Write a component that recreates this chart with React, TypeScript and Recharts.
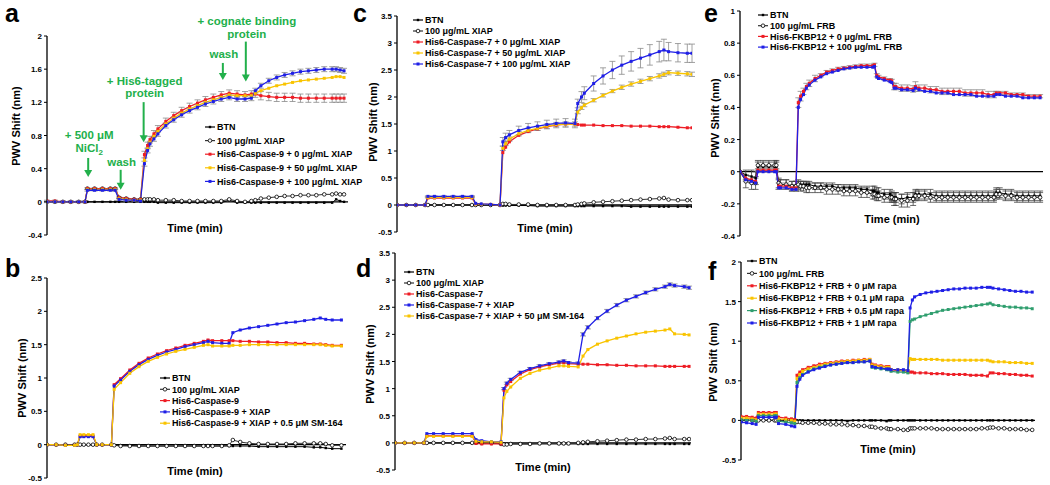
import React from "react";
import { LineChart, Line, XAxis, YAxis, ReferenceLine, ReferenceDot, ErrorBar } from "recharts";

const FONT = "Arial, 'Liberation Sans', Helvetica, sans-serif";
const RED = "#ee1c24";
const BLUE = "#1f1fe6";
const YELLOW = "#f9c400";
const GREEN = "#2f9e6e";
const BLACK = "#000";
const ANNOT = "#22b04b";

// ---- panel a : His6-Caspase-9 / XIAP, with annotations ----
const timeA = [0, 1, 2, 3, 4, 4.8, 5.1, 6, 7, 8, 8.6, 9.1, 10, 11, 11.8, 12.3, 12.7, 13, 13.5, 14, 15, 16, 17, 18, 19, 20, 21, 22, 23, 24, 25, 25.8, 26.3, 27, 28, 29, 30, 31, 32, 33, 34, 35, 36, 36.5, 37, 37.5];
const btnA = [0, 0, 0, 0, 0, 0, 0, 0, 0, 0, 0, 0, 0, 0, 0, 0, 0, 0, 0, -0.01, -0.01, -0.01, -0.01, -0.01, -0.01, -0.01, -0.01, -0.01, 0.02, -0.01, -0.01, -0.01, -0.01, -0.01, -0.01, -0.01, -0.01, -0.01, -0.01, -0.01, -0.01, -0.01, -0.01, 0.03, 0.01, 0];
const xiapA = [0, 0, 0, 0, 0, 0, 0.16, 0.16, 0.16, 0.16, 0.16, 0.05, 0.04, 0.03, 0.03, 0.03, 0.03, 0.03, 0.03, 0.02, 0.02, 0.02, 0.01, 0.01, 0.01, 0.01, 0.01, 0.01, 0.03, 0.01, 0, 0.01, 0.02, 0.04, 0.05, 0.06, 0.07, 0.07, 0.08, 0.08, 0.08, 0.09, 0.09, 0.1, 0.09, 0.09];
const casp9NoXiapA = [0.01, 0.01, 0, 0, 0, 0, 0.16, 0.16, 0.16, 0.16, 0.16, 0.05, 0.04, 0.03, 0.03, 0.57, 0.68, 0.75, 0.82, 0.88, 0.97, 1.04, 1.1, 1.15, 1.19, 1.23, 1.26, 1.29, 1.31, 1.3, 1.29, 1.3, 1.3, 1.28, 1.27, 1.26, 1.26, 1.26, 1.25, 1.25, 1.25, 1.25, 1.25, 1.25, 1.25, 1.25];
const casp9Xiap50A = [0, 0, 0, 0, 0, 0, 0.15, 0.15, 0.15, 0.15, 0.15, 0.04, 0.03, 0.02, 0.02, 0.5, 0.64, 0.72, 0.79, 0.85, 0.94, 1.01, 1.07, 1.12, 1.16, 1.2, 1.23, 1.26, 1.29, 1.28, 1.28, 1.28, 1.31, 1.34, 1.37, 1.4, 1.42, 1.44, 1.46, 1.47, 1.48, 1.49, 1.5, 1.51, 1.51, 1.5];
const casp9Xiap100A = [0, 0, 0, 0, 0, 0, 0.14, 0.14, 0.14, 0.14, 0.14, 0.03, 0.02, 0.02, 0.01, 0.46, 0.62, 0.7, 0.76, 0.82, 0.92, 0.99, 1.05, 1.1, 1.14, 1.18, 1.21, 1.24, 1.26, 1.24, 1.24, 1.25, 1.34, 1.4, 1.46, 1.5, 1.53, 1.55, 1.57, 1.58, 1.59, 1.6, 1.6, 1.6, 1.59, 1.58];
const errNoXiapA = [0.01, 0.01, 0.01, 0.01, 0.01, 0.01, 0.01, 0.01, 0.01, 0.01, 0.01, 0.01, 0.01, 0.01, 0.01, 0.04, 0.04, 0.04, 0.04, 0.04, 0.04, 0.04, 0.04, 0.04, 0.04, 0.04, 0.04, 0.04, 0.04, 0.04, 0.04, 0.04, 0.04, 0.05, 0.05, 0.05, 0.05, 0.05, 0.05, 0.05, 0.05, 0.05, 0.05, 0.05, 0.05, 0.05];
const errXiap100A = [0.01, 0.01, 0.01, 0.01, 0.01, 0.01, 0.01, 0.01, 0.01, 0.01, 0.01, 0.01, 0.01, 0.01, 0.01, 0.03, 0.03, 0.03, 0.03, 0.03, 0.03, 0.03, 0.03, 0.03, 0.03, 0.03, 0.03, 0.03, 0.03, 0.03, 0.03, 0.03, 0.03, 0.03, 0.03, 0.03, 0.03, 0.03, 0.03, 0.03, 0.03, 0.03, 0.03, 0.03, 0.03, 0.03];
const namesA = ["BTN", "100 μg/mL XIAP", "His6-Caspase-9 + 0 μg/mL XIAP", "His6-Caspase-9 + 50 μg/mL XIAP", "His6-Caspase-9 + 100 μg/mL XIAP"];
const annotLines = [["+ 500 μM", "NiCl_2"], ["wash"], ["+ His6-tagged", "protein"], ["wash"], ["+ cognate binding", "protein"]];
const annotTime = [5.2, 9.3, 12.2, 22.2, 25.1];
const annotLevel = [0.3, 0.145, 0.72, 1.47, 1.45];

// ---- panel b : Caspase-9 + SM-164 ----
const timeB = [0, 1, 2, 3, 3.3, 3.6, 4, 4.5, 5, 5.4, 6, 7, 7.3, 8, 9, 10, 11, 12, 13, 14, 15, 16, 17, 17.5, 18, 19, 19.8, 20.2, 21, 22, 23, 24, 25, 26, 27, 28, 29, 29.7, 30.3, 31, 32];
const btnB = [0, 0, 0, 0, 0, 0, 0, 0, 0, 0, 0, 0, -0.01, -0.01, -0.01, -0.02, -0.02, -0.02, -0.02, -0.02, -0.02, -0.02, -0.02, -0.02, -0.02, -0.02, -0.02, -0.02, -0.02, -0.02, -0.03, -0.03, -0.03, -0.03, -0.03, -0.03, -0.04, -0.04, -0.05, -0.06, -0.06];
const xiapB = [0, 0, 0, 0, 0, 0, 0, 0, 0, 0, 0, 0, -0.01, -0.02, -0.02, -0.02, -0.02, -0.02, -0.02, -0.02, -0.02, -0.02, -0.02, -0.02, -0.02, -0.02, -0.01, 0.07, 0.04, 0.02, 0.01, 0.01, 0.01, 0.01, 0.02, 0.02, 0.02, 0.02, 0.01, -0.01, -0.01];
const casp9B = [0, 0, -0.01, -0.01, 0, 0.13, 0.13, 0.13, 0.13, 0, 0, 0, 0.9, 0.99, 1.12, 1.22, 1.3, 1.36, 1.41, 1.45, 1.49, 1.52, 1.55, 1.57, 1.56, 1.56, 1.56, 1.56, 1.55, 1.55, 1.54, 1.54, 1.53, 1.53, 1.52, 1.52, 1.51, 1.51, 1.5, 1.49, 1.49];
const casp9XiapB = [0, 0, -0.01, -0.01, 0, 0.12, 0.12, 0.12, 0.12, 0, 0, 0, 0.88, 0.97, 1.1, 1.2, 1.28, 1.34, 1.39, 1.43, 1.47, 1.5, 1.53, 1.55, 1.53, 1.52, 1.52, 1.68, 1.72, 1.75, 1.77, 1.79, 1.81, 1.83, 1.84, 1.86, 1.88, 1.9, 1.88, 1.87, 1.87];
const casp9XiapSmB = [0, 0, -0.01, -0.01, 0, 0.15, 0.15, 0.15, 0.15, 0, 0, 0, 0.83, 0.93, 1.07, 1.17, 1.25, 1.31, 1.36, 1.4, 1.43, 1.46, 1.49, 1.5, 1.48, 1.48, 1.48, 1.49, 1.49, 1.5, 1.5, 1.5, 1.5, 1.5, 1.5, 1.5, 1.5, 1.5, 1.49, 1.48, 1.48];
const namesB = ["BTN", "100 μg/mL XIAP", "His6-Caspase-9", "His6-Caspase-9 + XIAP", "His6-Caspase-9 + XIAP + 0.5 μM SM-164"];

// ---- panel c : Caspase-7 / XIAP ----
const timeC = [0, 1, 2, 3, 3.3, 4, 5, 6, 7, 8, 8.4, 9, 10, 11, 11.3, 11.6, 12, 13, 14, 15, 16, 17, 18, 19, 19.3, 19.7, 20, 21, 22, 23, 24, 25, 26, 27, 28, 28.5, 29, 30, 31, 31.5];
const btnC = [0, 0, 0, 0, 0, 0, 0, 0, 0, 0, 0, 0, 0, 0, -0.01, -0.01, -0.01, -0.01, -0.01, -0.02, -0.02, -0.02, -0.02, -0.02, -0.02, -0.02, -0.02, -0.02, -0.02, -0.02, -0.02, -0.03, -0.03, -0.03, -0.03, -0.03, -0.03, -0.03, -0.03, -0.03];
const xiapC = [0, 0, 0, 0, 0, 0, 0, 0, 0, 0, 0, 0, 0, 0, 0.02, 0.02, 0.01, 0.01, 0.01, 0, 0, 0, 0, 0, 0.01, 0.02, 0.03, 0.05, 0.06, 0.07, 0.08, 0.09, 0.1, 0.11, 0.12, 0.13, 0.1, 0.09, 0.09, 0.09];
const casp7NoXiapC = [0, 0, 0, 0, 0.13, 0.13, 0.13, 0.13, 0.13, 0.13, 0.02, 0.01, 0.01, 0, 0.97, 1.07, 1.17, 1.29, 1.36, 1.41, 1.45, 1.48, 1.5, 1.5, 1.49, 1.48, 1.48, 1.48, 1.47, 1.47, 1.47, 1.46, 1.46, 1.46, 1.45, 1.45, 1.45, 1.44, 1.43, 1.43];
const casp7Xiap50C = [0, 0, 0, 0, 0.14, 0.14, 0.14, 0.14, 0.14, 0.14, 0.02, 0.01, 0.01, 0, 1.05, 1.14, 1.22, 1.32, 1.38, 1.42, 1.46, 1.49, 1.5, 1.5, 1.72, 1.8, 1.85, 1.94, 2.03, 2.11, 2.18, 2.24, 2.29, 2.34, 2.39, 2.42, 2.45, 2.44, 2.43, 2.42];
const casp7Xiap100C = [0, 0, 0, 0, 0.16, 0.16, 0.16, 0.16, 0.16, 0.16, 0.03, 0.02, 0.01, 0, 1.17, 1.25, 1.3, 1.38, 1.43, 1.46, 1.49, 1.51, 1.52, 1.51, 1.88, 2.0, 2.07, 2.25, 2.39, 2.5, 2.59, 2.66, 2.72, 2.78, 2.84, 2.87, 2.84, 2.82, 2.81, 2.81];
const errXiap50C = [0, 0, 0, 0, 0.01, 0.01, 0.01, 0.01, 0.01, 0.01, 0, 0, 0, 0, 0.04, 0.04, 0.04, 0.04, 0.04, 0.04, 0.04, 0.04, 0.04, 0.04, 0.03, 0.03, 0.03, 0.03, 0.03, 0.03, 0.04, 0.04, 0.04, 0.04, 0.04, 0.04, 0.04, 0.04, 0.04, 0.04];
const errXiap100C = [0, 0, 0, 0, 0.01, 0.01, 0.01, 0.01, 0.01, 0.01, 0, 0, 0, 0, 0.08, 0.08, 0.08, 0.08, 0.08, 0.08, 0.08, 0.08, 0.08, 0.08, 0.08, 0.1, 0.12, 0.14, 0.15, 0.16, 0.17, 0.18, 0.18, 0.19, 0.19, 0.2, 0.17, 0.17, 0.17, 0.17];
const namesC = ["BTN", "100 μg/mL XIAP", "His6-Caspase-7 + 0 μg/mL XIAP", "His6-Caspase-7 + 50 μg/mL XIAP", "His6-Caspase-7 + 100 μg/mL XIAP"];

// ---- panel d : Caspase-7 + SM-164 ----
const timeD = [0, 1, 2, 3, 3.3, 4, 5, 6, 7, 8, 8.4, 9, 10, 11, 11.3, 11.6, 12, 13, 14, 15, 16, 17, 17.5, 18, 19, 19.5, 20, 21, 22, 23, 24, 25, 26, 27, 28, 28.5, 29, 30, 30.5];
const btnD = [0, 0, 0, 0, 0, 0, 0, 0, 0, 0, 0, 0, 0, 0, -0.02, -0.02, -0.02, -0.02, -0.02, -0.02, -0.02, -0.02, -0.02, -0.02, -0.02, -0.02, -0.02, -0.02, -0.02, -0.02, -0.02, -0.02, -0.02, -0.02, -0.02, -0.02, -0.02, -0.02, -0.02];
const xiapD = [0, 0, 0, 0, 0, 0, 0, 0, 0, 0, 0, 0, 0, -0.02, -0.03, -0.03, -0.02, -0.02, -0.02, -0.01, -0.01, -0.01, -0.01, -0.01, 0, 0.01, 0.02, 0.03, 0.04, 0.05, 0.06, 0.06, 0.07, 0.07, 0.08, 0.09, 0.07, 0.07, 0.07];
const casp7D = [0, 0, 0, 0, 0.13, 0.13, 0.13, 0.13, 0.13, 0.13, -0.01, -0.02, -0.02, -0.02, 0.97, 1.07, 1.13, 1.27, 1.35, 1.4, 1.44, 1.47, 1.48, 1.46, 1.45, 1.45, 1.45, 1.44, 1.44, 1.43, 1.43, 1.42, 1.42, 1.42, 1.41, 1.41, 1.41, 1.41, 1.41];
const casp7XiapD = [0, 0, 0, 0, 0.17, 0.17, 0.17, 0.17, 0.17, 0.17, 0.06, 0.04, 0.02, 0.02, 1.0, 1.1, 1.17, 1.3, 1.37, 1.42, 1.46, 1.49, 1.51, 1.48, 1.47, 2.0, 2.13, 2.3, 2.43, 2.54, 2.63, 2.7, 2.77, 2.83, 2.88, 2.92, 2.9, 2.88, 2.86];
const casp7XiapSmD = [0, 0, 0, 0, 0.12, 0.12, 0.12, 0.12, 0.12, 0.12, 0.03, 0.02, 0.02, 0.01, 0.83, 0.95, 1.03, 1.19, 1.28, 1.34, 1.38, 1.42, 1.42, 1.41, 1.4, 1.6, 1.72, 1.82, 1.88, 1.93, 1.97, 2.01, 2.04, 2.06, 2.08, 2.1, 2.01, 2.0, 1.99];
const errXiapD = [0, 0, 0, 0, 0, 0, 0, 0, 0, 0, 0, 0, 0, 0, 0.02, 0.02, 0.02, 0.02, 0.02, 0.02, 0.02, 0.02, 0.02, 0.02, 0.02, 0.03, 0.03, 0.03, 0.03, 0.03, 0.03, 0.03, 0.03, 0.03, 0.03, 0.03, 0.03, 0.03, 0.03];
const namesD = ["BTN", "100 μg/mL XIAP", "His6-Caspase-7", "His6-Caspase-7 + XIAP", "His6-Caspase-7 + XIAP + 50 μM SM-164"];

// ---- panel e : FKBP12 / FRB ----
const timeE = [0, 1, 2, 2.7, 3.1, 4, 5, 6, 6.3, 6.7, 7, 8, 9, 9.7, 10.1, 10.5, 11, 11.5, 12, 13, 14, 15, 16, 17, 18, 19, 20, 21, 22, 23, 23.3, 23.7, 24, 25, 26, 26.3, 26.7, 27, 28, 29, 30, 30.4, 31, 32, 33, 34, 35, 36, 37, 38, 39, 40, 41, 42, 43, 44, 44.4, 45, 46, 47, 48, 49, 50, 51, 52];
const btnE = [0, -0.02, -0.03, -0.04, 0.03, 0.03, 0.03, 0.03, 0.03, -0.08, -0.08, -0.08, -0.09, -0.09, -0.08, -0.08, -0.08, -0.08, -0.08, -0.09, -0.09, -0.09, -0.09, -0.1, -0.1, -0.1, -0.1, -0.11, -0.11, -0.12, -0.12, -0.13, -0.13, -0.14, -0.14, -0.15, -0.16, -0.16, -0.17, -0.16, -0.16, -0.14, -0.14, -0.14, -0.14, -0.15, -0.15, -0.15, -0.15, -0.15, -0.15, -0.15, -0.15, -0.15, -0.15, -0.15, -0.13, -0.13, -0.14, -0.14, -0.15, -0.15, -0.15, -0.15, -0.15];
const frbE = [0, -0.06, -0.07, -0.07, 0.04, 0.04, 0.04, 0.04, 0.04, -0.07, -0.08, -0.08, -0.09, -0.09, -0.08, -0.09, -0.09, -0.1, -0.1, -0.1, -0.1, -0.11, -0.11, -0.11, -0.12, -0.12, -0.12, -0.13, -0.13, -0.14, -0.14, -0.15, -0.15, -0.16, -0.16, -0.16, -0.17, -0.17, -0.18, -0.18, -0.17, -0.15, -0.15, -0.15, -0.16, -0.16, -0.16, -0.16, -0.16, -0.16, -0.16, -0.16, -0.16, -0.16, -0.16, -0.16, -0.14, -0.14, -0.15, -0.15, -0.16, -0.16, -0.16, -0.16, -0.16];
const fkbpNoFrbE = [0, -0.04, -0.05, -0.06, 0.01, 0.01, 0.01, 0.01, 0.01, -0.09, -0.09, -0.09, -0.1, -0.1, 0.43, 0.47, 0.5, 0.53, 0.55, 0.58, 0.6, 0.62, 0.63, 0.64, 0.645, 0.65, 0.655, 0.66, 0.66, 0.66, 0.665, 0.6, 0.59, 0.58, 0.57, 0.565, 0.53, 0.53, 0.52, 0.52, 0.515, 0.53, 0.52, 0.52, 0.51, 0.51, 0.5, 0.5, 0.5, 0.5, 0.49, 0.49, 0.49, 0.49, 0.48, 0.48, 0.49, 0.49, 0.49, 0.48, 0.48, 0.48, 0.47, 0.47, 0.47];
const fkbpFrbE = [0, -0.05, -0.06, -0.07, 0, 0, 0, 0, 0, -0.1, -0.1, -0.1, -0.11, -0.11, 0.4, 0.45, 0.48, 0.52, 0.54, 0.57, 0.59, 0.61, 0.62, 0.63, 0.64, 0.645, 0.65, 0.65, 0.65, 0.65, 0.655, 0.59, 0.58, 0.57, 0.56, 0.555, 0.52, 0.52, 0.51, 0.51, 0.505, 0.52, 0.51, 0.5, 0.5, 0.49, 0.49, 0.49, 0.48, 0.48, 0.48, 0.48, 0.47, 0.47, 0.47, 0.47, 0.48, 0.48, 0.47, 0.47, 0.47, 0.46, 0.46, 0.46, 0.46];
const errBtnE = [0, 0.03, 0.04, 0.04, 0.03, 0.03, 0.03, 0.03, 0.03, 0.03, 0.03, 0.03, 0.03, 0.03, 0.02, 0.02, 0.02, 0.02, 0.02, 0.02, 0.02, 0.02, 0.02, 0.02, 0.02, 0.02, 0.02, 0.02, 0.02, 0.03, 0.03, 0.03, 0.03, 0.03, 0.03, 0.03, 0.03, 0.03, 0.03, 0.03, 0.03, 0.03, 0.03, 0.03, 0.03, 0.03, 0.03, 0.03, 0.03, 0.03, 0.03, 0.03, 0.03, 0.03, 0.03, 0.03, 0.03, 0.03, 0.03, 0.03, 0.03, 0.03, 0.03, 0.03, 0.03];
const errFrbE = [0, 0.04, 0.04, 0.04, 0.03, 0.03, 0.03, 0.03, 0.03, 0.03, 0.03, 0.03, 0.03, 0.03, 0.03, 0.03, 0.03, 0.03, 0.03, 0.03, 0.03, 0.03, 0.03, 0.03, 0.03, 0.03, 0.03, 0.03, 0.03, 0.03, 0.03, 0.03, 0.03, 0.03, 0.03, 0.03, 0.04, 0.04, 0.04, 0.04, 0.04, 0.03, 0.03, 0.03, 0.03, 0.03, 0.03, 0.03, 0.03, 0.03, 0.03, 0.03, 0.03, 0.03, 0.03, 0.03, 0.03, 0.03, 0.03, 0.03, 0.03, 0.03, 0.03, 0.03, 0.03];
const errNoFrbE = [0, 0.02, 0.02, 0.02, 0.01, 0.01, 0.01, 0.01, 0.01, 0.02, 0.02, 0.02, 0.02, 0.02, 0.03, 0.03, 0.02, 0.02, 0.02, 0.02, 0.01, 0.01, 0.01, 0.01, 0.01, 0.01, 0.01, 0.01, 0.01, 0.01, 0.01, 0.01, 0.01, 0.01, 0.01, 0.01, 0.02, 0.02, 0.02, 0.02, 0.02, 0.03, 0.02, 0.02, 0.02, 0.02, 0.02, 0.02, 0.02, 0.02, 0.02, 0.02, 0.02, 0.02, 0.02, 0.02, 0.01, 0.01, 0.01, 0.01, 0.01, 0.01, 0.01, 0.01, 0.01];
const namesE = ["BTN", "100 μg/mL FRB", "His6-FKBP12 + 0 μg/mL FRB", "His6-FKBP12 + 100 μg/mL FRB"];

// ---- panel f : FKBP12 + FRB + rapamycin ----
const timeF = [0, 1, 2, 2.7, 3.1, 4, 5, 6, 6.3, 6.7, 8, 9, 9.6, 10, 10.5, 11, 12, 13, 14, 15, 16, 17, 18, 19, 20, 21, 22, 23, 23.4, 24, 25, 26, 26.4, 26.8, 28, 29, 29.8, 30.2, 30.6, 31, 32, 33, 34, 35, 36, 37, 38, 39, 40, 41, 42, 43, 44, 44.5, 45, 46, 47, 48, 49, 50, 51, 52];
const btnF = [0, 0, 0, 0, 0, 0, 0, 0, 0, 0, 0, 0, 0, 0, 0, 0, 0, 0, 0, 0, 0, 0, 0, -0.01, 0, 0, 0, 0, 0, 0, 0, -0.01, 0, 0, 0, 0, 0, 0, 0, 0, 0, 0, 0, 0, 0, 0, 0, 0, 0, 0, 0, 0, 0, 0, 0, 0, 0, 0, 0, 0, 0, 0];
const frbF = [0, 0, 0, 0, 0, 0, 0, 0, 0, 0, 0, 0, 0, -0.02, -0.02, -0.03, -0.03, -0.03, -0.04, -0.04, -0.05, -0.05, -0.05, -0.06, -0.06, -0.07, -0.07, -0.08, -0.08, -0.09, -0.1, -0.1, -0.11, -0.11, -0.11, -0.12, -0.12, -0.1, -0.1, -0.1, -0.1, -0.1, -0.1, -0.11, -0.11, -0.11, -0.11, -0.11, -0.11, -0.11, -0.11, -0.1, -0.1, -0.09, -0.09, -0.1, -0.1, -0.11, -0.11, -0.11, -0.12, -0.12];
const rapa0F = [0.05, 0.05, 0.04, 0.03, 0.1, 0.1, 0.1, 0.1, 0.1, 0.04, 0.03, 0.02, 0.01, 0.57, 0.61, 0.64, 0.67, 0.69, 0.71, 0.72, 0.73, 0.74, 0.75, 0.75, 0.76, 0.76, 0.77, 0.77, 0.71, 0.7, 0.69, 0.68, 0.68, 0.64, 0.63, 0.63, 0.62, 0.61, 0.61, 0.6, 0.6, 0.6, 0.59, 0.59, 0.59, 0.58, 0.58, 0.58, 0.58, 0.57, 0.57, 0.57, 0.56, 0.6, 0.6, 0.59, 0.59, 0.58, 0.58, 0.57, 0.57, 0.56];
const rapa01F = [0.03, 0.03, 0.02, 0.01, 0.08, 0.08, 0.08, 0.08, 0.08, 0.02, 0.01, 0, -0.01, 0.53, 0.58, 0.62, 0.65, 0.67, 0.69, 0.71, 0.72, 0.73, 0.74, 0.75, 0.75, 0.76, 0.76, 0.77, 0.7, 0.69, 0.68, 0.67, 0.67, 0.64, 0.64, 0.63, 0.63, 0.78, 0.77, 0.77, 0.77, 0.77, 0.77, 0.77, 0.76, 0.76, 0.76, 0.76, 0.76, 0.76, 0.76, 0.76, 0.76, 0.75, 0.74, 0.74, 0.74, 0.73, 0.73, 0.73, 0.72, 0.72];
const rapa05F = [0.01, 0, 0, -0.01, 0.06, 0.06, 0.06, 0.06, 0.06, -0.01, -0.02, -0.03, -0.04, 0.48, 0.54, 0.58, 0.62, 0.65, 0.67, 0.69, 0.7, 0.71, 0.72, 0.73, 0.73, 0.74, 0.74, 0.75, 0.67, 0.66, 0.65, 0.64, 0.64, 0.62, 0.61, 0.61, 0.6, 1.25, 1.27, 1.28, 1.31, 1.33, 1.35, 1.37, 1.39, 1.4, 1.41, 1.42, 1.43, 1.44, 1.45, 1.46, 1.47, 1.48, 1.46, 1.45, 1.44, 1.43, 1.43, 1.42, 1.42, 1.41];
const rapa1F = [-0.02, -0.03, -0.04, -0.05, 0.04, 0.04, 0.04, 0.04, 0.04, -0.04, -0.05, -0.07, -0.08, 0.43, 0.52, 0.57, 0.61, 0.64, 0.66, 0.68, 0.7, 0.71, 0.72, 0.73, 0.73, 0.74, 0.74, 0.75, 0.68, 0.67, 0.66, 0.65, 0.65, 0.64, 0.64, 0.64, 0.63, 1.42, 1.52, 1.56, 1.59, 1.61, 1.62, 1.63, 1.64, 1.65, 1.66, 1.66, 1.67, 1.67, 1.67, 1.68, 1.68, 1.68, 1.67, 1.66, 1.65, 1.64, 1.63, 1.63, 1.62, 1.62];
const namesF = ["BTN", "100 μg/mL FRB", "His6-FKBP12 + FRB + 0 μM rapa", "His6-FKBP12 + FRB + 0.1 μM rapa", "His6-FKBP12 + FRB + 0.5 μM rapa", "His6-FKBP12 + FRB + 1 μM rapa"];

type Mark = "btn" | "open" | "sq";
type Series = { name: string; values: number[]; color: string; mark: Mark; err?: number[] };
type Box = { x0: number; x1: number; y0: number; y1: number };
type PanelDef = {
  letter: string;
  time: number[];
  series: Series[];
  xDomain: [number, number];
  xTicks: number[];
  yDomain: [number, number];
  yTicks: number[];
  box: Box;
  mt: number;
  letterPos: [number, number];
  yLabel: [number, number];
  xLabel: [number, number];
  legend: { x: number; y: number; step: number };
  annotate?: boolean;
};

const mk = (names: string[], vals: number[][], colors: string[], errs: (number[] | undefined)[] = []): Series[] =>
  names.map((name, i) => ({
    name,
    values: vals[i],
    color: colors[i],
    mark: i === 0 ? "btn" : i === 1 ? "open" : "sq",
    err: errs[i],
  }));

const panels: PanelDef[] = [
  {
    letter: "a",
    time: timeA,
    series: mk(namesA, [btnA, xiapA, casp9NoXiapA, casp9Xiap50A, casp9Xiap100A], [BLACK, BLACK, RED, YELLOW, BLUE], [undefined, undefined, errNoXiapA, undefined, errXiap100A]),
    xDomain: [0, 38],
    xTicks: [0, 5, 10, 15, 20, 25, 30, 35],
    yDomain: [-0.4, 2],
    yTicks: [-0.4, 0, 0.4, 0.8, 1.2, 1.6, 2],
    box: { x0: 47, x1: 348, y0: 36, y1: 235 },
    mt: 30,
    letterPos: [5, 22],
    yLabel: [16, 126],
    xLabel: [195, 232],
    legend: { x: 205, y: 127, step: 13.6 },
    annotate: true,
  },
  {
    letter: "b",
    time: timeB,
    series: mk(namesB, [btnB, xiapB, casp9B, casp9XiapB, casp9XiapSmB], [BLACK, BLACK, RED, BLUE, YELLOW]),
    xDomain: [0, 32.5],
    xTicks: [0, 5, 10, 15, 20, 25, 30],
    yDomain: [-0.5, 2.5],
    yTicks: [-0.5, 0, 0.5, 1, 1.5, 2, 2.5],
    box: { x0: 47, x1: 346, y0: 278, y1: 478 },
    mt: 10,
    letterPos: [5, 277],
    yLabel: [22, 378],
    xLabel: [195, 475],
    legend: { x: 160, y: 378, step: 11.3 },
  },
  {
    letter: "c",
    time: timeC,
    series: mk(namesC, [btnC, xiapC, casp7NoXiapC, casp7Xiap50C, casp7Xiap100C], [BLACK, BLACK, RED, YELLOW, BLUE], [undefined, undefined, undefined, errXiap50C, errXiap100C]),
    xDomain: [0, 31.5],
    xTicks: [0, 5, 10, 15, 20, 25, 30],
    yDomain: [-0.5, 3.5],
    yTicks: [-0.5, 0, 0.5, 1, 1.5, 2, 2.5, 3, 3.5],
    box: { x0: 397, x1: 692, y0: 16, y1: 232 },
    mt: 12,
    letterPos: [353, 22],
    yLabel: [373, 122],
    xLabel: [545, 232],
    legend: { x: 413, y: 20, step: 11 },
  },
  {
    letter: "d",
    time: timeD,
    series: mk(namesD, [btnD, xiapD, casp7D, casp7XiapD, casp7XiapSmD], [BLACK, BLACK, RED, BLUE, YELLOW], [undefined, undefined, undefined, errXiapD, undefined]),
    xDomain: [0, 30.7],
    xTicks: [0, 5, 10, 15, 20, 25, 30],
    yDomain: [-0.5, 3.5],
    yTicks: [-0.5, 0, 0.5, 1, 1.5, 2, 2.5, 3, 3.5],
    box: { x0: 395, x1: 691, y0: 253, y1: 470 },
    mt: 10,
    letterPos: [356, 277],
    yLabel: [370, 364],
    xLabel: [543, 471],
    legend: { x: 404, y: 272, step: 11 },
  },
  {
    letter: "e",
    time: timeE,
    series: mk(namesE, [btnE, frbE, fkbpNoFrbE, fkbpFrbE], [BLACK, BLACK, RED, BLUE], [errBtnE, errFrbE, errNoFrbE, undefined]),
    xDomain: [0, 52.5],
    xTicks: [5, 10, 15, 20, 25, 30, 35, 40, 45, 50],
    yDomain: [-0.4, 1],
    yTicks: [-0.4, -0.2, 0, 0.2, 0.4, 0.6, 0.8, 1],
    box: { x0: 740, x1: 1043, y0: 11, y1: 236 },
    mt: 10,
    letterPos: [704, 22],
    yLabel: [715, 118],
    xLabel: [892, 223],
    legend: { x: 758, y: 15, step: 10.7 },
  },
  {
    letter: "f",
    time: timeF,
    series: mk(namesF, [btnF, frbF, rapa0F, rapa01F, rapa05F, rapa1F], [BLACK, BLACK, RED, YELLOW, GREEN, BLUE]),
    xDomain: [0, 52.5],
    xTicks: [0, 5, 10, 15, 20, 25, 30, 35, 40, 45, 50],
    yDomain: [-0.5, 2],
    yTicks: [-0.5, 0, 0.5, 1, 1.5, 2],
    box: { x0: 741, x1: 1035, y0: 262, y1: 460 },
    mt: 10,
    letterPos: [708, 280],
    yLabel: [713, 362],
    xLabel: [888, 453],
    legend: { x: 747, y: 261, step: 12.4 },
  },
];

// arrow geometry (pixels) for the panel-a annotations
const arrowLen = [19, 20, 40, 17, 40];
const textBase = [-25, -24, -45, -22, -44];

const makeDot = (mark: Mark, color: string) => (p: any) => {
  const { cx, cy, index } = p;
  if (cx == null || cy == null) return <g key={index} />;
  if (mark === "open")
    return <circle key={index} cx={cx} cy={cy} r={1.8} fill="#fff" stroke="#000" strokeWidth={0.8} />;
  const s = mark === "btn" ? 2.4 : 3;
  return <rect key={index} x={cx - s / 2} y={cy - s / 2} width={s} height={s} fill={color} />;
};

const ZeroTick = (props: any) => {
  const { x, payload, zeroY } = props;
  return (
    <text x={x} y={zeroY + 12} textAnchor="middle" fontSize={8} fontWeight="bold" fontFamily={FONT} fill="#000">
      {payload.value}
    </text>
  );
};

const YTick = (props: any) => {
  const { x, y, payload } = props;
  return (
    <text x={x} y={y + 3} textAnchor="end" fontSize={8} fontWeight="bold" fontFamily={FONT} fill="#000">
      {payload.value}
    </text>
  );
};

const arrowShape = (i: number) => (p: any) => {
  const { cx, cy } = p;
  const lines = annotLines[i];
  const base = cy + textBase[i];
  return (
    <g>
      <line x1={cx} x2={cx} y1={cy - arrowLen[i]} y2={cy - 6} stroke={ANNOT} strokeWidth={2} />
      <polygon points={`${cx - 4},${cy - 7} ${cx + 4},${cy - 7} ${cx},${cy}`} fill={ANNOT} />
      {lines.map((ln, k) => {
        const [main, sub] = ln.split("_");
        return (
          <text
            key={k}
            x={cx + 1}
            y={base - (lines.length - 1 - k) * 12.5}
            textAnchor="middle"
            fontSize={11.5}
            fontWeight="bold"
            fontFamily={FONT}
            fill={ANNOT}
          >
            {main}
            {sub && (
              <tspan fontSize={8} dy={3}>
                {sub}
              </tspan>
            )}
          </text>
        );
      })}
    </g>
  );
};

function Panel({ def }: { def: PanelDef }) {
  const ML = 30;
  const MR = 4;
  const MB = 4;
  const { box, yDomain, mt } = def;
  const plotW = box.x1 - box.x0;
  const plotH = box.y1 - box.y0;
  const zeroY = mt + (plotH * yDomain[1]) / (yDomain[1] - yDomain[0]);
  const rows = def.time.map((t, i) => {
    const r: any = { t };
    def.series.forEach((s, k) => {
      r["s" + k] = s.values[i];
      if (s.err) r["e" + k] = s.err[i];
    });
    return r;
  });
  return (
    <div style={{ position: "absolute", left: box.x0 - ML, top: box.y0 - mt }}>
      <LineChart width={ML + plotW + MR} height={mt + plotH + MB} data={rows} margin={{ top: mt, right: MR, bottom: MB, left: 0 }}>
        <XAxis
          dataKey="t"
          type="number"
          domain={def.xDomain}
          ticks={def.xTicks}
          interval={0}
          height={0}
          axisLine={false}
          tickLine={false}
          allowDataOverflow
          tick={<ZeroTick zeroY={zeroY} />}
        />
        <YAxis
          type="number"
          domain={yDomain}
          ticks={def.yTicks}
          interval={0}
          width={ML}
          allowDataOverflow
          axisLine={{ stroke: "#000", strokeWidth: 1.3 }}
          tickLine={{ stroke: "#000" }}
          tickSize={3}
          tick={<YTick />}
        />
        <ReferenceLine y={0} stroke="#000" strokeWidth={1.3} />
        {def.series.map((s, k) => (
          <Line
            key={k}
            dataKey={"s" + k}
            type="linear"
            stroke={s.mark === "open" ? "#333" : s.color}
            strokeWidth={s.mark === "sq" ? 1.3 : 1}
            dot={makeDot(s.mark, s.color)}
            activeDot={false}
            isAnimationActive={false}
          >
            {s.err && (
              <ErrorBar
                dataKey={"e" + k}
                direction="y"
                width={3}
                stroke={s.mark === "sq" ? "#8a8a8a" : "#444"}
                strokeWidth={0.8}
                isAnimationActive={false}
              />
            )}
          </Line>
        ))}
        {def.annotate &&
          annotTime.map((t, i) => (
            <ReferenceDot key={"an" + i} x={t} y={annotLevel[i]} ifOverflow="visible" shape={arrowShape(i)} />
          ))}
      </LineChart>
    </div>
  );
}

function LegendMark({ s, x, y }: { s: Series; x: number; y: number }) {
  if (s.mark === "open") return <circle cx={x} cy={y} r={1.8} fill="#fff" stroke="#000" strokeWidth={0.8} />;
  const d = s.mark === "btn" ? 2.4 : 3;
  return <rect x={x - d / 2} y={y - d / 2} width={d} height={d} fill={s.color} />;
}

function Overlay() {
  return (
    <svg width={1050} height={485} style={{ position: "absolute", left: 0, top: 0, pointerEvents: "none" }} fontFamily={FONT}>
      {panels.map((p) => (
        <g key={p.letter}>
          <text x={p.letterPos[0]} y={p.letterPos[1]} fontSize={25} fontWeight="bold" fill="#000">
            {p.letter}
          </text>
          <text
            transform={`translate(${p.yLabel[0]},${p.yLabel[1]}) rotate(-90)`}
            textAnchor="middle"
            dominantBaseline="central"
            fontSize={11}
            fontWeight="bold"
            fill="#000"
          >
            PWV Shift (nm)
          </text>
          <text x={p.xLabel[0]} y={p.xLabel[1]} textAnchor="middle" fontSize={11} fontWeight="bold" fill="#000">
            Time (min)
          </text>
          {p.series.map((s, i) => {
            const y = p.legend.y + i * p.legend.step;
            const x = p.legend.x;
            return (
              <g key={i}>
                <line x1={x} x2={x + 10} y1={y} y2={y} stroke={s.mark === "open" ? "#333" : s.color} strokeWidth={1.2} />
                <LegendMark s={s} x={x + 5} y={y} />
                <text x={x + 12} y={y + 3.2} fontSize={9} fontWeight="bold" fill="#000">
                  {s.name}
                </text>
              </g>
            );
          })}
        </g>
      ))}
    </svg>
  );
}

export default function App() {
  return (
    <div style={{ position: "absolute", left: 0, top: 0, width: 1050, height: 485, background: "#fff", fontFamily: FONT }}>
      {panels.map((p) => (
        <Panel key={p.letter} def={p} />
      ))}
      <Overlay />
    </div>
  );
}
